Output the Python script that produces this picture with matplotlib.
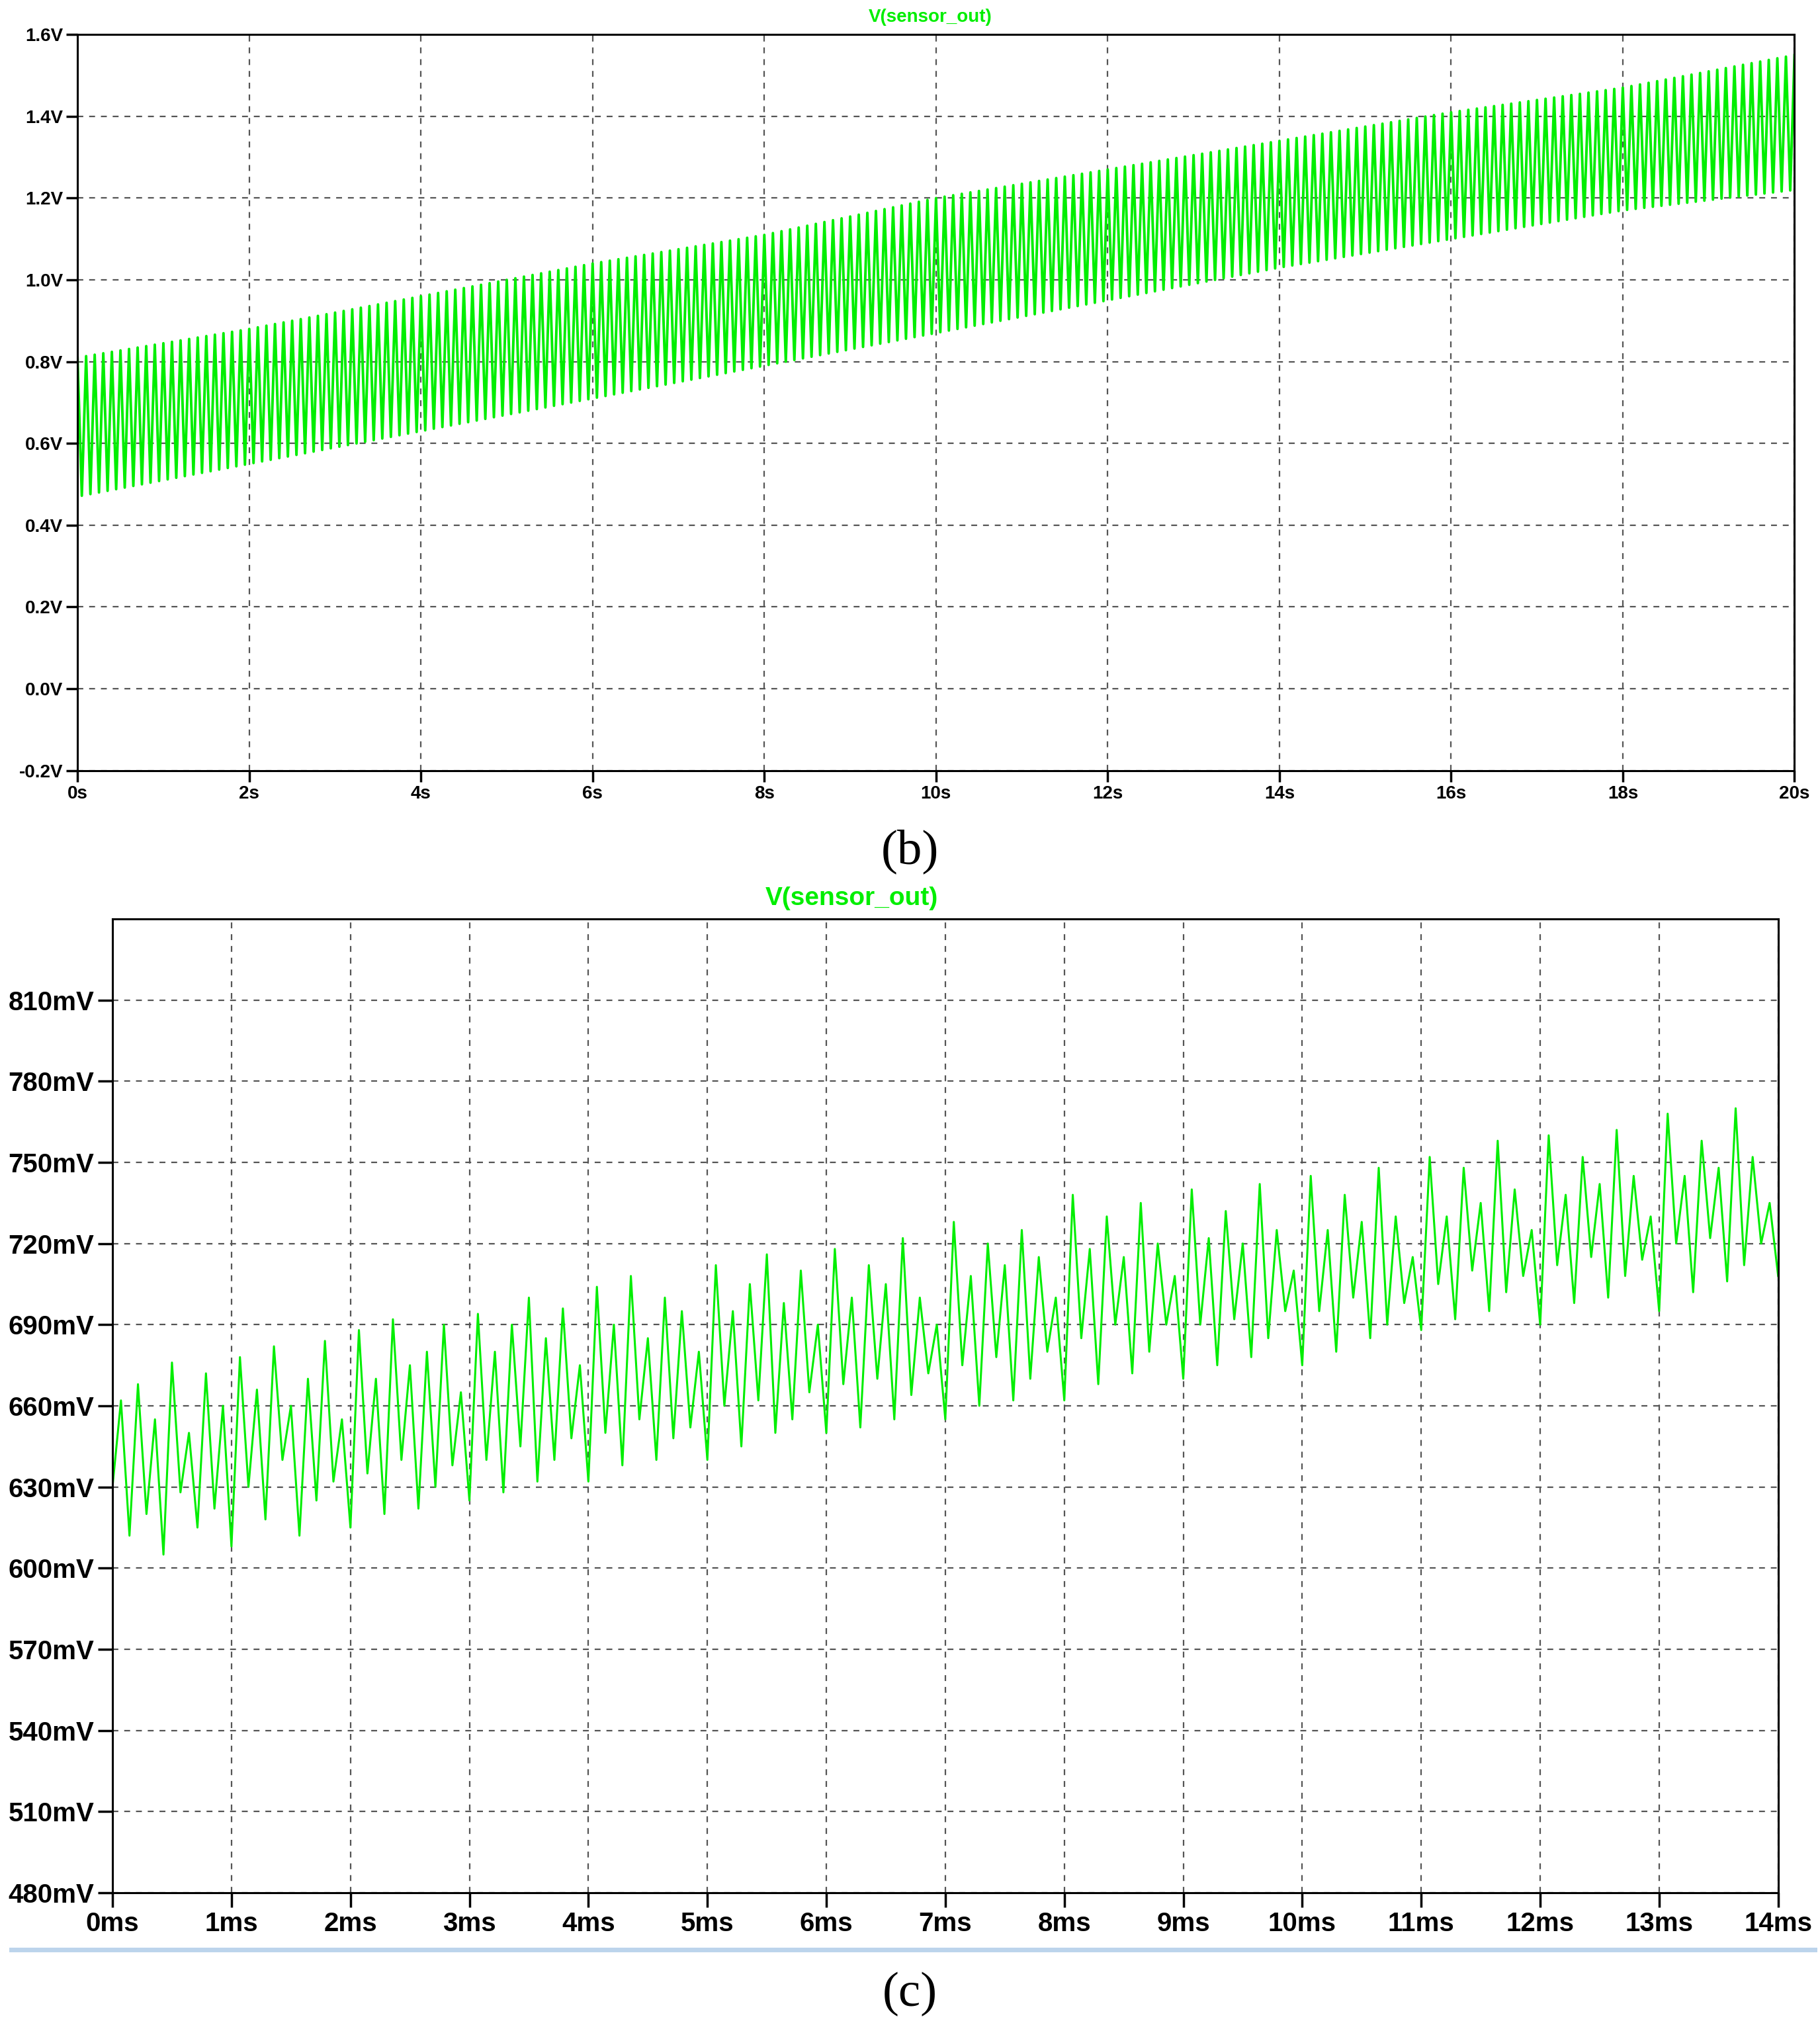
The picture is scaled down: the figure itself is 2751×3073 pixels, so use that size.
import numpy as np
import matplotlib
matplotlib.use("Agg")
import matplotlib.pyplot as plt
from matplotlib.lines import Line2D

# ---- data (b) ----
b_env_t = [0, 2, 4, 6, 8, 10, 12, 14, 16, 18, 20]
b_upper = [0.81, 0.88, 0.96, 1.04, 1.11, 1.20, 1.27, 1.34, 1.41, 1.47, 1.55]
b_lower = [0.47, 0.55, 0.63, 0.71, 0.79, 0.87, 0.95, 1.03, 1.10, 1.17, 1.22]
b_cycles = 200
b_yticks = [-0.2, 0.0, 0.2, 0.4, 0.6, 0.8, 1.0, 1.2, 1.4, 1.6]
b_ylabels = ["-0.2V", "0.0V", "0.2V", "0.4V", "0.6V", "0.8V", "1.0V", "1.2V", "1.4V", "1.6V"]
b_xticks = list(range(0, 21, 2))
b_xlabels = [f"{v}s" for v in b_xticks]

# ---- data (c) ----
c_values = [
 630,662,612,668,620,655,605,676,628,650,615,672,622,660,
 608,678,630,666,618,682,640,660,612,670,625,684,632,655,
 615,688,635,670,620,692,640,675,622,680,630,690,638,665,
 625,694,640,680,628,690,645,700,632,685,640,696,648,675,
 632,704,650,690,638,708,655,685,640,700,648,695,652,680,
 640,712,660,695,645,705,662,716,650,698,655,710,665,690,
 650,718,668,700,652,712,670,705,655,722,664,700,672,690,
 655,728,675,708,660,720,678,712,662,725,670,715,680,700,
 662,738,685,718,668,730,690,715,672,735,680,720,690,708,
 670,740,690,722,675,732,692,720,678,742,685,725,695,710,
 675,745,695,725,680,738,700,728,685,748,690,730,698,715,
 688,752,705,730,692,748,710,735,695,758,702,740,708,725,
 690,760,712,738,698,752,715,742,700,762,708,745,714,730,
 695,768,720,745,702,758,722,748,706,770,712,752,720,735,
 708]
c_yticks = list(range(480, 811, 30))
c_ylabels = [f"{v}mV" for v in c_yticks]
c_xticks = list(range(0, 15))
c_xlabels = [f"{v}ms" for v in c_xticks]

GREEN = "#00ee00"
FONT = ["Liberation Sans Narrow", "Liberation Sans", "DejaVu Sans"]

fig = plt.figure(figsize=(27.51, 30.73), dpi=100)

def style(ax, fs, ticklen):
    ax.grid(True, color="#555555", linestyle=(0, (4, 4)), linewidth=1.6)
    for s in ax.spines.values():
        s.set_linewidth(2.2)
        s.set_color("black")
    ax.tick_params(direction="out", length=ticklen, width=2.5, labelsize=fs, pad=4)
    for lab in ax.get_xticklabels() + ax.get_yticklabels():
        lab.set_family(FONT)
        lab.set_fontweight("bold")

# (b)
ax1 = fig.add_axes([0.0426, 0.621, 0.9434, 0.362])
tz = np.linspace(0, 20, 2 * b_cycles + 1)
up = np.interp(tz, b_env_t, b_upper)
lo = np.interp(tz, b_env_t, b_lower)
yz = np.where(np.arange(tz.size) % 2 == 0, up, lo)
ax1.plot(tz, yz, color=GREEN, linewidth=2.8)
ax1.set_xlim(0, 20)
ax1.set_ylim(-0.2, 1.6)
ax1.set_xticks(b_xticks, b_xlabels)
ax1.set_yticks(b_yticks, b_ylabels)
style(ax1, 20, 12)
fig.text(0.511, 0.9917, "V(sensor_out)", color=GREEN, fontsize=20, fontweight="bold",
         family=FONT, ha="center", va="center")
fig.text(0.5, 0.581, "(b)", fontsize=54, family=["Liberation Serif"], ha="center", va="center")

# (c)
ax2 = fig.add_axes([0.0618, 0.069, 0.9152, 0.479])
tc = np.linspace(0, 14, len(c_values))
ax2.plot(tc, c_values, color=GREEN, linewidth=2.2)
ax2.set_xlim(0, 14)
ax2.set_ylim(480, 840)
ax2.set_xticks(c_xticks, c_xlabels)
ax2.set_yticks(c_yticks, c_ylabels)
style(ax2, 29, 16)
fig.text(0.468, 0.558, "V(sensor_out)", color=GREEN, fontsize=28, fontweight="bold",
         family=FONT, ha="center", va="center")
fig.add_artist(Line2D([0.006, 0.997], [0.041, 0.041], color="#bcd4ec", linewidth=5,
                      transform=fig.transFigure))
fig.text(0.5, 0.019, "(c)", fontsize=54, family=["Liberation Serif"], ha="center", va="center")

fig.savefig("out.png", dpi=100, facecolor="white")
